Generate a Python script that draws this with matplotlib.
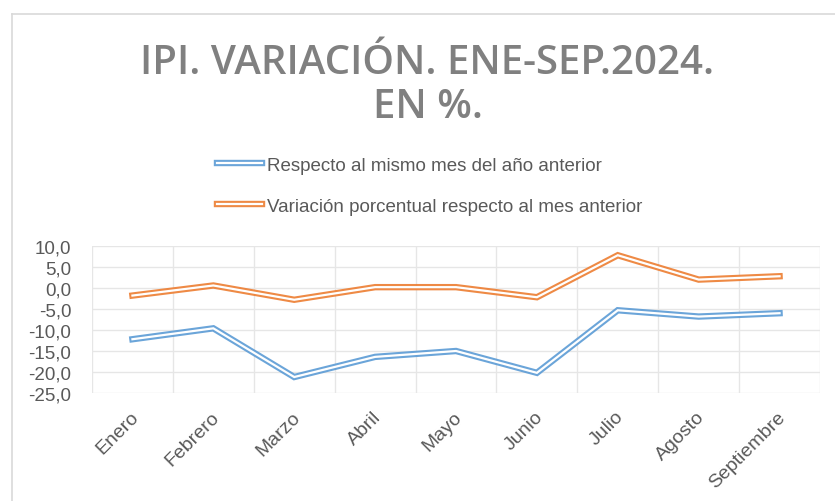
import matplotlib
matplotlib.use("Agg")
import matplotlib.pyplot as plt
from matplotlib.lines import Line2D
from matplotlib.ticker import FixedLocator, FuncFormatter

# data
meses = ['Enero', 'Febrero', 'Marzo', 'Abril', 'Mayo', 'Junio', 'Julio', 'Agosto', 'Septiembre']
interanual = [-12.2, -9.6, -21.2, -16.4, -15.0, -20.2, -5.3, -6.8, -6.0]
mensual = [-1.8, 0.6, -2.8, 0.2, 0.2, -2.2, 7.8, 2.0, 2.8]
lab_interanual = 'Respecto al mismo mes del año anterior'
lab_mensual = 'Variación porcentual respecto al mes anterior'
yticks = [10, 5, 0, -5, -10, -15, -20, -25]

plt.rcParams['font.family'] = ['Liberation Sans', 'DejaVu Sans']

BLUE = '#5b9bd5'
ORANGE = '#ed7d31'
GRID = '#e6e6e6'
TXT = '#595959'

W, H = 835, 502
fig = plt.figure(figsize=(W / 100, H / 100), dpi=100)
ax = fig.add_axes([92 / W, 1 - 394 / H, (820 - 92) / W, (394 - 247) / H])

x = list(range(len(meses)))
handles = []
for vals, col, lab in [(interanual, BLUE, lab_interanual), (mensual, ORANGE, lab_mensual)]:
    l1, = ax.plot(x, vals, color=col, lw=4.6, alpha=0.9, solid_joinstyle='miter', zorder=3)
    l2, = ax.plot(x, vals, color='white', lw=1.6, solid_joinstyle='miter', zorder=4)
    handles.append(((l1, l2), lab))

ax.set_xlim(-0.5, len(meses) - 0.5)
ax.set_ylim(-25, 10)
ax.yaxis.set_major_locator(FixedLocator(yticks))
ax.yaxis.set_major_formatter(FuncFormatter(lambda v, p: f'{v:.1f}'.replace('.', ',')))
ax.set_xticks([i + 0.04 for i in x])
ax.set_xticklabels(meses, rotation=45, ha='right', va='center', rotation_mode='anchor')
ax.xaxis.set_minor_locator(FixedLocator([i - 0.5 for i in range(len(meses) + 1)]))

ax.grid(axis='y', which='major', color=GRID, lw=1.0)
ax.grid(axis='x', which='minor', color=GRID, lw=1.0)
ax.grid(axis='x', which='major', visible=False)
ax.set_axisbelow(True)
for s in ax.spines.values():
    s.set_visible(False)
ax.tick_params(axis='both', which='both', length=0, colors=TXT, labelsize=13.5)
ax.tick_params(axis='x', labelsize=14)
ax.tick_params(axis='y', pad=15)
ax.tick_params(axis='x', pad=15)

# title
title_kw = dict(ha='center', va='center', fontsize=29, fontweight='semibold',
                color='#808080', family=['Open Sans', 'DejaVu Sans'])
fig.text(0.512, 1 - 64 / H, 'IPI. VARIACIÓN. ENE-SEP.2024.', **title_kw)
fig.text(0.512, 1 - 108 / H, 'EN %.', **title_kw)

# legend
leg = fig.legend([h for h, _ in handles], [l for _, l in handles],
                 loc='upper left', bbox_to_anchor=(200 / W, 1 - 141 / H),
                 frameon=False, fontsize=13.5, handlelength=2.4, handletextpad=0.25,
                 labelspacing=1.25, labelcolor=TXT)

# chart border (left and top visible)
fig.add_artist(Line2D([12 / W, 12 / W], [0, 1 - 15 / H], color='#d9d9d9', lw=1.2))
fig.add_artist(Line2D([12 / W, 1], [1 - 15 / H, 1 - 15 / H], color='#d9d9d9', lw=1.2))

fig.savefig('out.png', dpi=100)
